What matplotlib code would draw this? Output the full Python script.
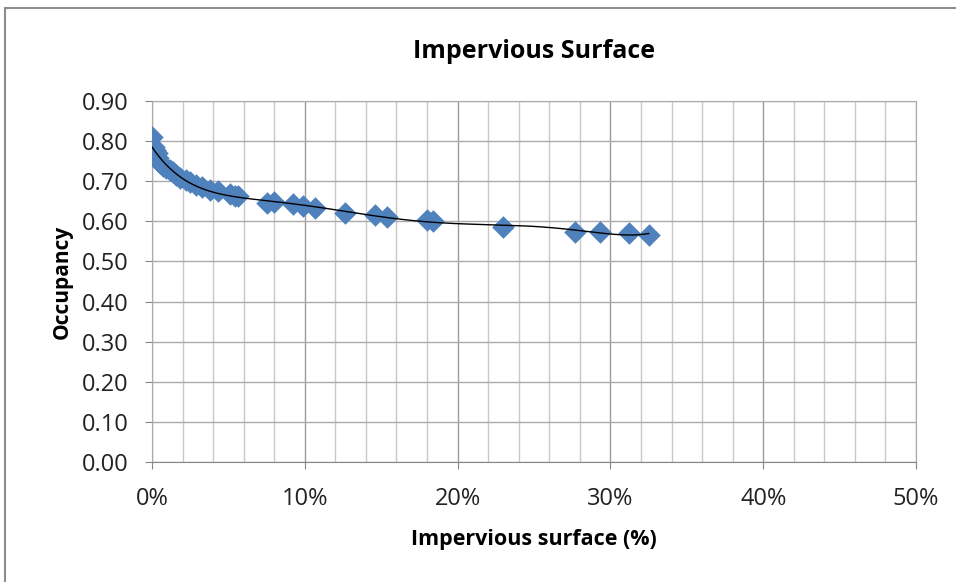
"""Impervious surface vs occupancy scatter with polynomial trend line."""

import numpy as np
import matplotlib

matplotlib.use("Agg")
import matplotlib.pyplot as plt
from matplotlib.patches import Rectangle
from matplotlib.ticker import FuncFormatter, MultipleLocator

# impervious surface (fraction) and occupancy
impervious = [
    0.000, 0.001, 0.002, 0.003, 0.004, 0.005, 0.007, 0.009, 0.012, 0.014,
    0.016, 0.018, 0.022, 0.025, 0.029, 0.033, 0.038, 0.043, 0.051, 0.054,
    0.056, 0.075, 0.080, 0.092, 0.099, 0.107, 0.126, 0.146, 0.154, 0.180,
    0.184, 0.230, 0.277, 0.293, 0.312, 0.325,
]
occupancy = [
    0.810, 0.785, 0.778, 0.770, 0.758, 0.745, 0.738, 0.733, 0.728, 0.723,
    0.716, 0.708, 0.703, 0.698, 0.691, 0.686, 0.678, 0.676, 0.668, 0.664,
    0.662, 0.646, 0.648, 0.644, 0.637, 0.632, 0.621, 0.616, 0.611, 0.603,
    0.601, 0.586, 0.574, 0.574, 0.571, 0.566,
]
trend_degree = 6

x = np.array(impervious)
y = np.array(occupancy)

fig = plt.figure(figsize=(9.56, 5.82), dpi=100)
plt.rcParams["font.family"] = ["Open Sans", "DejaVu Sans"]

# chart-area frame like the Excel chart border
fig.patches.append(Rectangle((5 / 956, -0.1), 1.1, 1.1 - 8 / 582,
                             transform=fig.transFigure, fill=False,
                             edgecolor="#8c8c8c", lw=1.5))

ax = fig.add_axes([152 / 956, 1 - 462 / 582, 764 / 956, 361 / 582])

ax.scatter(x, y, marker="D", s=11.5 ** 2, color="#4f81bd", linewidths=0, zorder=3)

coef = np.polyfit(x, y, trend_degree)
xs = np.linspace(x.min(), x.max(), 300)
ax.plot(xs, np.polyval(coef, xs), color="black", lw=1.0, zorder=4)

ax.set_xlim(0, 0.5)
ax.set_ylim(0, 0.9)
ax.xaxis.set_major_locator(MultipleLocator(0.1))
ax.xaxis.set_minor_locator(MultipleLocator(0.02))
ax.yaxis.set_major_locator(MultipleLocator(0.1))
ax.xaxis.set_major_formatter(FuncFormatter(lambda v, _: f"{v * 100:.0f}%"))
ax.yaxis.set_major_formatter(FuncFormatter(lambda v, _: f"{v:.2f}"))

ax.grid(True, which="minor", axis="x", color="#c8c8c8", lw=1.0)
ax.grid(True, which="major", axis="x", color="#9a9a9a", lw=1.0)
ax.grid(True, which="major", axis="y", color="#ababab", lw=1.0)
ax.set_axisbelow(True)

for side in ("top", "right", "left"):
    ax.spines[side].set_color("#ababab")
ax.spines["bottom"].set_color("#868686")
ax.tick_params(axis="both", which="major", length=5, color="#868686",
               labelsize=17, labelcolor="#222222")
ax.tick_params(axis="x", which="minor", length=0)
ax.tick_params(axis="x", pad=13)
ax.tick_params(axis="y", pad=12)

ax.set_title("Impervious Surface", fontsize=18, fontweight="bold", pad=31)
ax.set_xlabel("Impervious surface (%)", fontsize=15.5, fontweight="bold", labelpad=13)
ax.set_ylabel("Occupancy", fontsize=15, fontweight="bold", labelpad=6)

fig.savefig("out.png", dpi=100)
plt.close(fig)
